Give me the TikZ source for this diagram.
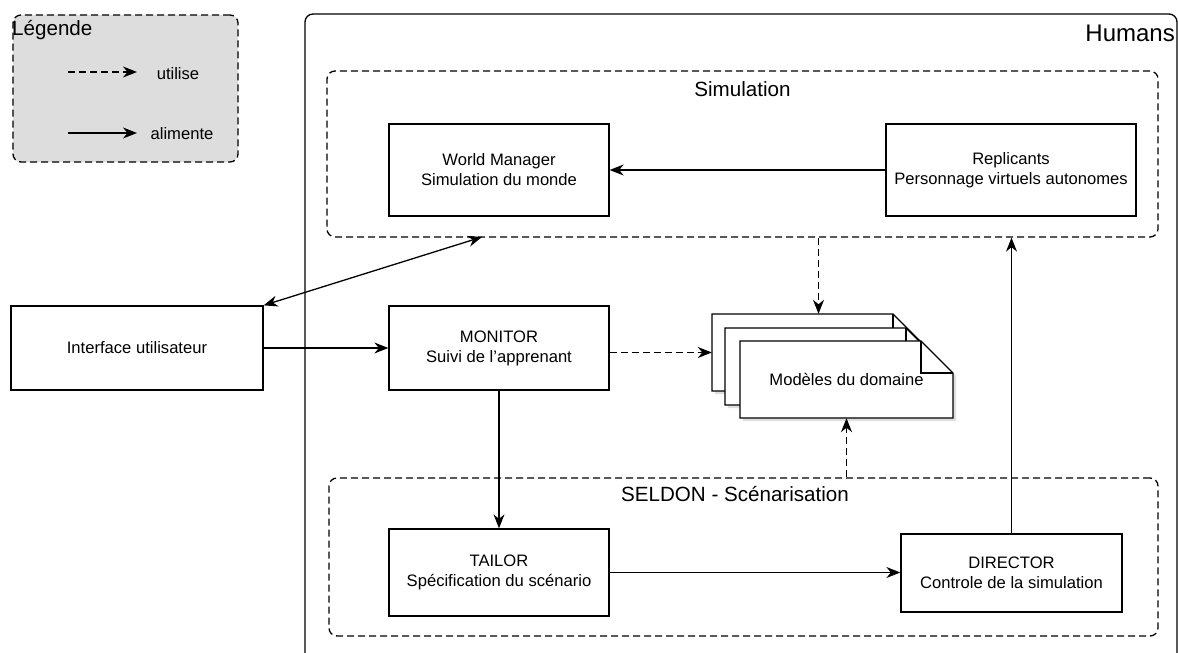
\documentclass[tikz,border=0pt]{standalone}
\usepackage{fontspec}
\setmainfont{Liberation Sans}
\usetikzlibrary{arrows.meta,shadows}
\definecolor{leggray}{HTML}{DDDDDD}
\begin{document}
\begin{tikzpicture}[x=1bp,y=-1bp,
  txt/.style={font=\fontsize{16.6bp}{20bp}\selectfont},
  box/.style={draw,line width=1.3bp,fill=white,minimum width=220bp,minimum height=86bp,inner sep=2bp,align=center,txt},
  grp/.style={draw,line width=1.3bp,dash pattern=on 7bp off 4bp,rounded corners=8bp,inner sep=0pt},
  grplabel/.style={font=\fontsize{20.6bp}{24bp}\selectfont},
  headtip/.tip={Stealth[length=14bp,width=11bp,inset=4.5bp]},
  feed/.style={line width=1.3bp,-headtip},
  uses/.style={feed,dash pattern=on 7bp off 4bp},
  docshape/.style={draw,line width=1.3bp,fill=white,drop shadow={opacity=0.25,shadow xshift=3bp,shadow yshift=-3bp}},
]
\useasboundingbox (0,0) rectangle (1179,653);
\clip (0,0) rectangle (1179,653);

% Legend
\node[grp,fill=leggray,minimum width=225bp,minimum height=147bp] (leg) at (125.5,88.5) {};
\node[grplabel,anchor=west,inner sep=0pt] (legt) at (12,30) {Légende};
\coordinate (la1) at (68,72);
\coordinate (la2) at (137,72);
\coordinate (lb1) at (68,133);
\coordinate (lb2) at (137,133);
\draw[uses] (la1) -- (la2);
\draw[feed] (lb1) -- (lb2);
\node[txt] (lu) at (178,74) {utilise};
\node[txt] (lal) at (182,134) {alimente};

% Humans container
\draw[line width=1.3bp,rounded corners=8bp] (305,680) -- (305,14) -- (1177,14) -- (1177,680);
\node[anchor=east,inner sep=0pt,font=\fontsize{24bp}{28bp}\selectfont] (hum) at (1175,33) {Humans};

% Groups
\node[grp,minimum width=831bp,minimum height=166bp] (sim) at (742.5,154) {};
\node[grplabel] (simt) at (742.5,89) {Simulation};
\node[grp,minimum width=829bp,minimum height=158bp] (sel) at (743.5,557) {};
\node[grplabel] (selt) at (735,494) {SELDON - Scénarisation};

% Boxes
\node[box,minimum height=92bp] (wm) at (499,170) {World Manager\\Simulation du monde};
\node[box,minimum width=250bp,minimum height=92bp] (rep) at (1011,170) {Replicants\\Personnage virtuels autonomes};
\node[box,minimum width=252bp,minimum height=84bp] (iface) at (137,348) {Interface utilisateur};
\node[box,minimum height=84bp] (mon) at (499,348) {MONITOR\\Suivi de l'apprenant};
\node[box,minimum height=87bp] (tai) at (499,572.5) {TAILOR\\Spécification du scénario};
\node[box,minimum width=221bp,minimum height=78bp] (dir) at (1011.5,573) {DIRECTOR\\Controle de la simulation};

% Document stack
\foreach \dx/\dy in {0/0,13/14,28/27}{
  \path[docshape] (712+\dx,314+\dy) -- (893+\dx,314+\dy) -- (925+\dx,346+\dy) -- (925+\dx,391+\dy) -- (712+\dx,391+\dy) -- cycle;
  \draw[line width=1.3bp] (893+\dx,314+\dy) -- (893+\dx,346+\dy) -- (925+\dx,346+\dy);
}
\node[minimum width=213bp,minimum height=77bp,inner sep=0pt] (docA) at (818.5,352.5) {};
\node[minimum width=213bp,minimum height=77bp,inner sep=0pt,txt] (docC) at (846.5,379.5) {\raisebox{-4bp}{Modèles du domaine}};

% Connectors
\coordinate (simB) at (482,237);
\draw[feed] (rep) -- (wm);
\draw[feed] (iface) -- (mon);
\draw[line width=1.3bp,headtip-headtip] (iface.north east) -- (simB);
\draw[uses] (mon.east |- docA.west) -- (docA.west);
\draw[uses] (sim.south -| docA.north) -- (docA.north);
\draw[uses] (sel.north -| docC.south) -- (docC.south);
\draw[feed] (mon) -- (tai);
\draw[feed] (tai.east) -- (tai.east -| dir.west);
\draw[feed] (dir) -- (dir |- sim.south);
\end{tikzpicture}
\end{document}
